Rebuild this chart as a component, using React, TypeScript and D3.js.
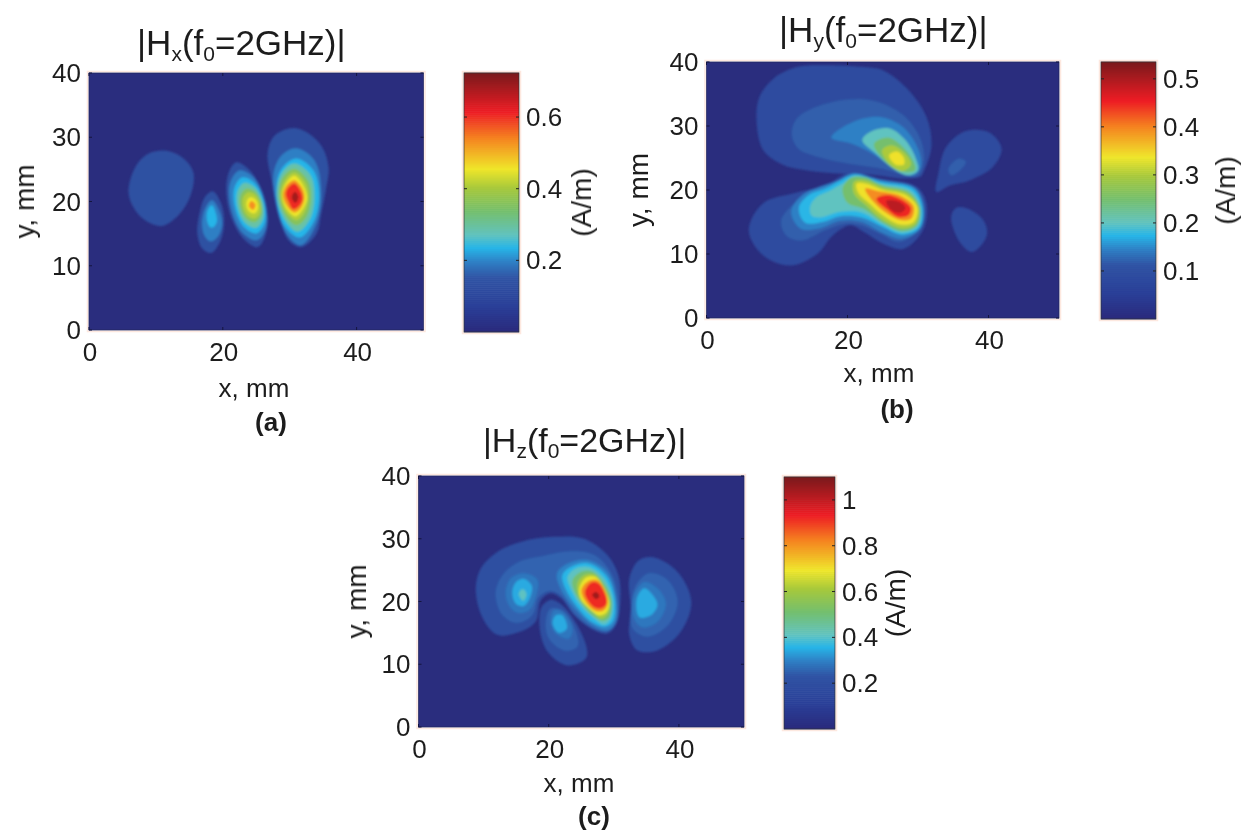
import React from "react";
import * as d3 from "d3";

type Pt = [number, number];
type Contour = [number, Pt[]];

const xTicks = [0, 20, 40];
const yTicks = [0, 10, 20, 30, 40];

// Filled-contour level values in A/m, read against each colour bar
const levelsA = [0.14, 0.195, 0.235, 0.29, 0.36, 0.41, 0.455, 0.53, 0.605, 0.685];
const levelsB = [0.09, 0.12, 0.145, 0.175, 0.2, 0.25, 0.3, 0.34, 0.395, 0.45, 0.49];
const levelsC = [0.2, 0.255, 0.3, 0.36, 0.41, 0.51, 0.61, 0.69, 0.81, 0.92, 1.05, 0.345, 0.285];

const colorbarTicksA = [0.2, 0.4, 0.6];
const colorbarTicksB = [0.1, 0.2, 0.3, 0.4, 0.5];
const colorbarTicksC = [0.2, 0.4, 0.6, 0.8, 1];

// Contours as [level index, outline in (x mm, y mm)]
const contoursA: Contour[] = [
  [0, [[5.9,21.5],[7,25.5],[9,27.5],[11.6,27.9],[14,26.8],[15.6,24.5],[15.2,21],[13.5,18],[11,16.2],[8.5,17],[6.7,19]]],
  [0, [[18.5,21.6],[19.7,19.8],[20.2,17],[19.7,14],[18.3,12],[17,12.6],[16.2,15],[16.6,18.5],[17.4,20.8]]],
  [1, [[18.4,20.2],[19.5,18.5],[19.9,16.5],[19.3,14.6],[18.2,13.8],[17.3,14.6],[16.9,16.5],[17.4,19]]],
  [2, [[18.4,19.4],[19,18],[19.1,16.8],[18.6,16],[18.1,16],[17.7,16.8],[17.6,18],[17.9,19]]],
  [0, [[22,26.1],[24.26,24.6],[26.3,20.2],[26.52,15.26],[25.2,12.9],[22.94,14.4],[20.9,18.8],[20.68,23.74]]],
  [1, [[22.48,24.84],[24.66,23.68],[26.33,20.01],[26.52,15.98],[25.12,13.96],[22.94,15.12],[21.27,18.79],[21.08,22.82]]],
  [2, [[22.94,23.77],[24.77,22.86],[26.14,19.92],[26.27,16.68],[25.06,15.03],[23.23,15.94],[21.86,18.88],[21.73,22.12]]],
  [3, [[23.25,22.9],[24.8,22.19],[25.95,19.85],[26,17.23],[24.95,15.9],[23.4,16.61],[22.25,18.95],[22.2,21.57]]],
  [4, [[23.57,22.02],[24.85,21.52],[25.76,19.78],[25.75,17.82],[24.83,16.78],[23.55,17.28],[22.64,19.02],[22.65,20.98]]],
  [5, [[23.81,21.44],[24.84,21.07],[25.56,19.71],[25.55,18.16],[24.79,17.36],[23.76,17.73],[23.04,19.09],[23.05,20.64]]],
  [6, [[24.1,20.66],[24.77,20.41],[25.23,19.6],[25.19,18.67],[24.7,18.14],[24.03,18.39],[23.57,19.2],[23.61,20.13]]],
  [7, [[24.24,20.08],[24.89,19.52],[24.56,18.72],[23.91,19.28]]],
  [0, [[31,31.4],[34.5,29],[35.8,25.4],[35.4,21.8],[34.7,18.1],[34,15],[31.7,12.9],[29.8,14],[28.4,18.1],[27.3,23.3],[26.7,27.5],[27.8,30.3]]],
  [1, [[31,28.3],[33.7,26.4],[34.7,21.8],[34,16.6],[31.7,13.2],[29.5,15],[28,19.2],[27.6,24.4],[28.8,27.2]]],
  [2, [[30.9,26.7],[33.5,24.9],[34.4,21.3],[33.7,17.1],[31.5,14.4],[29.3,16.1],[28.1,20.2],[28.5,24.6]]],
  [3, [[30.7,25.9],[33.1,24.1],[33.7,21],[33.1,17.4],[31.2,15.3],[29.3,17.1],[28.1,20.7],[28.8,24.4]]],
  [4, [[30.7,25.1],[32.7,23.3],[33.2,20.7],[32.5,17.6],[31,16.3],[29.3,17.9],[28.4,21],[29,23.8]]],
  [5, [[30.7,24.5],[32.4,22.8],[32.8,20.5],[32.1,18.1],[31,17.1],[29.4,18.4],[28.6,21],[29.3,23.3]]],
  [6, [[30.7,24],[32.1,22.3],[32.6,20.5],[31.9,18.7],[30.9,17.7],[29.5,18.9],[28.9,21],[29.5,22.9]]],
  [7, [[30.7,23.3],[31.9,22],[32.2,20.5],[31.6,18.9],[30.7,18.3],[29.6,19.3],[29,21],[29.6,22.6]]],
  [8, [[30.7,22.8],[31.7,21.5],[31.9,20.2],[31.2,19.1],[30.5,18.8],[29.8,20],[29.4,21.3],[29.9,22.3]]],
  [9, [[30.8,21.5],[31.3,20.7],[30.9,19.8],[30.3,20.6]]],
];

const contoursB: Contour[] = [
  [0, [[16.3,39.5],[22.4,39.2],[25,38.7],[28.4,35.9],[31.2,31.4],[31.9,26.7],[30.7,22.6],[30.4,22.1],[27.9,21.8],[23.5,22.4],[18,22.6],[13.5,23.2],[10.9,23.9],[8.06,26.2],[7.1,30.9],[7.5,34.5],[9.5,37.4],[12.8,39.2]]],
  [1, [[12.1,28.8],[13,31.4],[18,33.8],[23.5,34],[27.9,31.7],[30.4,27.8],[30.8,24.1],[29.8,22.1],[25.1,23.3],[20.2,24.1],[15.7,25.2],[13,26.5]]],
  [2, [[17.7,28.2],[20.7,30.6],[24.6,31.4],[27.9,29.8],[30.1,26.2],[30.4,23.6],[29.3,22.3],[26.8,23.3],[23.5,25.7],[20.7,27.2]]],
  [4, [[22.1,27.8],[23.5,29.2],[26,29.6],[28.2,27.8],[29.7,24.9],[30,23.1],[28.7,22.3],[26.8,23.1],[24,25.7]]],
  [5, [[23.75,27.2],[25.7,28.2],[27.6,27],[29.3,24.6],[29.6,23.1],[27.9,22.8],[25.7,24.1]]],
  [6, [[24.9,26.2],[26.2,27],[27.9,26],[29,24],[27.8,23],[26,24]]],
  [7, [[25.9,25.4],[27,26],[28,25],[28,24],[26.8,24]]],
  [0, [[6,13.7],[8,17.9],[12.4,19.5],[16.8,20.7],[20.2,22.6],[24.6,21.8],[29.8,20.5],[31.2,17.9],[30.7,13.7],[27.9,10.8],[25.1,11.6],[22.4,13.4],[20.4,14.5],[17.9,12.9],[15.7,10],[11.85,8.2],[8,9.8]]],
  [1, [[10.6,15.3],[13,18.4],[15.7,19.7],[17.9,20.7],[20.4,22.3],[24.6,21.6],[29.6,20.2],[30.8,17.9],[30.4,14.2],[27.4,11.9],[24.6,13.2],[21.8,14.5],[19.6,14.7],[16.8,13.7],[13.5,12.1],[11.3,12.9]]],
  [2, [[12,16.6],[13.6,19.2],[16,20.5],[18.5,21.4],[20.8,22.6],[24.6,21.6],[29.5,20.4],[30.8,17.5],[30.3,13.9],[27.7,12.4],[25,13.3],[22,15],[19,15.2],[16,14],[13.3,14]]],
  [3, [[13.1,17.2],[14.5,19.2],[17,20.3],[19,21.5],[21,22.4],[24.6,21.3],[29.3,20.2],[30.6,17.3],[30.2,14.1],[27.7,13],[25,14.2],[22,15.7],[19,15.9],[16.5,15],[14,14.9]]],
  [4, [[14.7,17.4],[15.6,18.9],[17.5,19.9],[19.3,21],[21,22.2],[24.6,21],[29,19.9],[30.4,17.3],[30,14.3],[27.7,13.3],[25,14.6],[22,16.5],[19,16.6],[16,15.7],[14.9,16]]],
  [5, [[19.3,20.2],[20.5,21.9],[22.5,22],[25,20.7],[28.7,19.7],[30.3,17.2],[29.8,14.4],[27.7,13.6],[25,14.9],[22.4,17],[20,18]]],
  [6, [[20.9,21.3],[22.5,21.5],[25,20.4],[28.5,19.5],[30.1,17.2],[29.6,14.6],[27.7,14],[25,15.3],[22.6,17.6],[20.9,19.5]]],
  [7, [[21.3,21],[22.5,21],[25,20],[28.2,19.2],[29.9,17.3],[29.4,15],[27.5,14.6],[25.2,15.9],[23,18],[21.5,19.6]]],
  [8, [[22.5,20.2],[24.5,19.8],[27.5,19.1],[29.4,17.4],[29,15.5],[27.5,15.3],[25.5,16.4],[23.8,18]]],
  [9, [[24.1,18.6],[25.5,19.2],[27.5,18.6],[29,17.2],[28.6,16],[27.2,15.8],[25.8,16.8]]],
  [10, [[25.5,18.3],[27.2,18.2],[28.2,17.2],[27.4,16.4],[26.2,16.9]]],
  [0, [[32.6,19.7],[32.9,22.6],[34,26.7],[36.8,29.2],[40.1,29],[41.85,26.5],[40.6,23.6],[37.3,21.5],[34.5,20.7]]],
  [1, [[34.3,23.3],[35.7,24.9],[36.8,24.4],[36,23.1],[34.7,22.3]]],
  [0, [[34.7,15.8],[35.4,17.2],[37,17.1],[39.25,15.3],[39.8,13.2],[39,11.4],[37.6,10.3],[35.9,11.9]]],
];

const contoursC: Contour[] = [
  [0, [[8.8,22.1],[9.6,25.3],[12.1,27.9],[15.7,29.5],[20.8,30.3],[25.4,30],[29,27.4],[30.7,24.2],[31,20],[30.3,16.2],[29,14.9],[26.5,15.7],[23.9,17.8],[21.9,20.5],[20.3,21.3],[18.8,20.2],[18,16.8],[15.7,15.2],[12.1,14.7],[9.8,17.5]]],
  [1, [[11.85,21.3],[12.9,24.2],[15.4,26.3],[19.3,27.3],[23.4,28],[27,27.4],[29.5,24.7],[30.6,21],[30.5,16.8],[29,15.2],[26.5,15.9],[23.9,18.1],[21.9,20.9],[20.3,21.7],[18.5,20.7],[17.5,17.8],[15.2,16.6],[12.9,17.8]]],
  [12, [[13.4,21.5],[14.2,23.7],[16.2,24.5],[18.3,23.4],[18,20.7],[17,18.6],[15.2,18.2],[13.9,19.4]]],
  [11, [[14.4,21.3],[14.9,23],[16.2,23.6],[17.4,22.5],[17.1,20.5],[16.2,19.3],[15,19.6]]],
  [4, [[15.4,21.2],[16,22],[16.6,21.2],[16.1,20.1]]],
  [2, [[21.3,24.5],[22.9,26],[25.95,26.6],[29,24.7],[30.3,21],[30.3,16.8],[29,15.4],[26.7,16.2],[24.2,18.6],[21.85,22]]],
  [3, [[22.1,24.2],[23.4,25.5],[26,26.1],[28.8,24.2],[30.1,20.7],[29.95,17],[28.8,16],[26.7,16.7],[24.4,19.1],[22.6,22]]],
  [4, [[22.9,23.9],[24.2,25.3],[26.2,25.5],[28.5,23.7],[29.8,20.5],[29.55,17.3],[28.5,16.3],[27,17.3],[24.9,19.4],[23.4,22]]],
  [5, [[23.65,23.4],[24.9,24.7],[26.7,24.8],[28.5,22.9],[29.65,20.2],[29.3,17.5],[28.3,16.9],[26.7,17.8],[24.9,19.9],[23.8,22]]],
  [6, [[24.4,22.9],[25.4,24.2],[27,24.3],[28.5,22.3],[29.4,19.9],[29,17.9],[28,17.3],[26.7,18.5],[24.9,20.2]]],
  [7, [[24.7,22.1],[25.7,23.8],[27.2,23.9],[28.6,21.8],[29.3,19.7],[28.8,18.2],[27.75,17.8],[26.2,18.9],[24.9,20.5]]],
  [8, [[25,21.8],[26,23.2],[27.5,23.4],[28.8,21.3],[29,19.4],[28.3,18.5],[27.2,18.5],[25.85,19.7]]],
  [9, [[25.55,21.5],[26.5,23],[27.6,22.9],[28.6,21.3],[28.9,19.7],[28,18.9],[27,19.1],[26,20.2]]],
  [10, [[26.7,21.1],[27.3,21.5],[27.8,20.8],[27.2,20.4]]],
  [0, [[18.8,18.9],[18.8,14.6],[20.05,11.7],[22.9,9.8],[25.7,10.9],[25.85,12.5],[24.4,16.2],[22.4,19.1],[20.8,20.2],[20.05,20.2]]],
  [1, [[20.3,18.9],[19.55,16.75],[20.05,14.1],[22.4,12.2],[24.4,12.8],[24.2,15.2],[22.4,18.4]]],
  [12, [[20.8,18.6],[20.3,16.75],[21.1,14.9],[23.1,14.1],[23.65,15.7],[22.1,18.4]]],
  [11, [[21.1,17.8],[20.6,16.5],[21.6,15],[22.8,15.7],[22.1,17.8]]],
  [0, [[32.4,23.7],[33.9,26.6],[36.2,27],[39.8,24.7],[41.9,20],[40.3,15.2],[36.7,12.2],[33.65,12.2],[32.4,14.6],[32.6,18.9]]],
  [1, [[33.4,22.6],[35.4,24.5],[38.3,23.4],[39.8,20],[38.3,16.2],[35.2,14.4],[32.9,15.7],[32.7,19.4]]],
  [12, [[33.1,21],[34.7,23.1],[36.7,22.1],[38,19.7],[36.7,16.75],[34.4,15.9],[33.1,17.3]]],
  [11, [[33.55,20.5],[34.7,22.1],[36.2,20.7],[36.7,19.4],[35.7,17.8],[33.9,17.5]]],
];

// Colour bar stops (fraction of range, colour)
const colormapStops = [0, 0.1, 0.21, 0.27, 0.325, 0.375, 0.465, 0.555, 0.63, 0.75, 0.85, 1];
const colormapColors = ["#2a2a7c", "#2a3f98", "#3054a4", "#2f7fc4", "#27b5e8", "#62c3bf", "#74bf6e", "#a6c83c", "#efe62a", "#f58220", "#ed1c24", "#7a1a1c"];

const FONT = "'Liberation Sans', Arial, sans-serif";
const INK = "#1d1d1d";
const BG = "#2a2d7e";
const colormap = d3.scaleLinear<string>().domain(colormapStops).range(colormapColors).clamp(true);
const outline = d3.line<Pt>().curve(d3.curveCatmullRomClosed.alpha(0.5));

type PanelProps = {
  id: string;
  sub: string;
  tag: string;
  plot: [number, number, number, number];
  bar: [number, number, number, number];
  barMax: number;
  levels: number[];
  contours: Contour[];
  barTicks: number[];
  titleX: number;
  titleY: number;
  titleSize: number;
  xLabelPos: [number, number];
  tagPos: [number, number];
  yLabelX: number;
  unitX: number;
  barLabelX: number;
};

function Panel(p: PanelProps) {
  const [x0, x1, yTop, yBot] = p.plot;
  const [bx0, bx1, bTop, bBot] = p.bar;
  const x = d3.scaleLinear().domain([0, 50]).range([x0, x1]);
  const y = d3.scaleLinear().domain([0, 40]).range([yBot, yTop]);
  const c = d3.scaleLinear().domain([0, p.barMax]).range([bBot, bTop]);
  const yMid = (yTop + yBot) / 2;
  const ordered = [...p.contours].sort((a, b) => d3.ascending(p.levels[a[0]], p.levels[b[0]]));
  const cells = d3.range(128).map((i) => (i + 0.5) / 128);
  const h = (bBot - bTop) / 128;
  return (
    <g fontFamily={FONT} fill={INK}>
      <rect x={x0 - 1.5} y={yTop - 1.5} width={x1 - x0 + 3} height={yBot - yTop + 3} fill="none" stroke="#fde8df" strokeWidth={1.5} />
      <rect x={bx0 - 1.5} y={bTop - 1.5} width={bx1 - bx0 + 3} height={bBot - bTop + 3} fill="none" stroke="#fde8df" strokeWidth={1.5} />
      <clipPath id={`clip-${p.id}`}>
        <rect x={x0} y={yTop} width={x1 - x0} height={yBot - yTop} />
      </clipPath>
      <g clipPath={`url(#clip-${p.id})`}>
        <rect x={x0} y={yTop} width={x1 - x0} height={yBot - yTop} fill={BG} />
        <g filter="url(#soft)">
          {ordered.map(([lvl, pts], i) => {
            const mapped = pts.map(([a, b]) => [x(a), y(b)] as Pt);
            return <path key={i} d={outline(mapped) || ""} fill={colormap(p.levels[lvl] / p.barMax)} />;
          })}
        </g>
      </g>
      <rect x={x0} y={yTop} width={x1 - x0} height={yBot - yTop} fill="none" stroke="#23265f" strokeWidth={0.8} />
      {xTicks.map((t) => (
        <g key={t}>
          <line x1={x(t)} x2={x(t)} y1={yBot} y2={yBot - 3} stroke="#14153f" />
          <line x1={x(t)} x2={x(t)} y1={yTop} y2={yTop + 3} stroke="#14153f" />
          <text x={x(t) + 1} y={yBot + 31} fontSize={26} textAnchor="middle" filter="url(#softText)">{t}</text>
        </g>
      ))}
      {yTicks.map((t) => (
        <g key={t}>
          <line x1={x0} x2={x0 + 3} y1={y(t)} y2={y(t)} stroke="#14153f" />
          <line x1={x1} x2={x1 - 3} y1={y(t)} y2={y(t)} stroke="#14153f" />
          <text x={x0 - 8} y={y(t) + 9} fontSize={26} textAnchor="end" filter="url(#softText)">{t}</text>
        </g>
      ))}
      {cells.map((f, i) => (
        <rect key={i} x={bx0} y={c(f * p.barMax) - h / 2 - 0.3} width={bx1 - bx0} height={h + 0.6} fill={colormap(f)} />
      ))}
      <rect x={bx0} y={bTop} width={bx1 - bx0} height={bBot - bTop} fill="none" stroke="#333" strokeWidth={0.9} strokeOpacity={0.8} />
      {p.barTicks.map((t) => (
        <g key={t}>
          <line x1={bx0} x2={bx0 + 3} y1={c(t)} y2={c(t)} stroke="#222" />
          <line x1={bx1} x2={bx1 - 3} y1={c(t)} y2={c(t)} stroke="#222" />
          <text x={p.barLabelX} y={c(t) + 9} fontSize={26} filter="url(#softText)">{t}</text>
        </g>
      ))}
      <text x={p.titleX} y={p.titleY} fontSize={p.titleSize} filter="url(#softText)">
        |H<tspan fontSize={21} dy={6}>{p.sub}</tspan><tspan dy={-6}>(f</tspan><tspan fontSize={21} dy={6}>0</tspan><tspan dy={-6}>=2GHz)|</tspan>
      </text>
      <text x={p.xLabelPos[0]} y={p.xLabelPos[1]} fontSize={26} textAnchor="middle" filter="url(#softText)">x, mm</text>
      <text x={p.tagPos[0]} y={p.tagPos[1]} fontSize={26} fontWeight="bold" textAnchor="middle" filter="url(#softText)">{p.tag}</text>
      <text transform={`translate(${p.yLabelX},${yMid}) rotate(-90)`} fontSize={28} textAnchor="middle" filter="url(#softText)">y, mm</text>
      <text transform={`translate(${p.unitX},${(bTop + bBot) / 2}) rotate(-90)`} fontSize={28} textAnchor="middle" filter="url(#softText)">(A/m)</text>
    </g>
  );
}

export default function App() {
  return (
    <svg width={1242} height={830} viewBox="0 0 1242 830" style={{ position: "absolute", left: 0, top: 0, background: "#fff" }}>
      <defs>
        <filter id="soft" x="-10%" y="-10%" width="120%" height="120%"><feGaussianBlur stdDeviation={1.1} /></filter>
        <filter id="softText" x="-10%" y="-20%" width="120%" height="140%"><feGaussianBlur stdDeviation={0.45} /></filter>
      </defs>
      <Panel id="a" sub="x" tag="(a)" plot={[89, 423.5, 73, 330]} bar={[464, 519, 73, 332]} barMax={0.723}
        levels={levelsA} contours={contoursA} barTicks={colorbarTicksA}
        titleX={137} titleY={55} titleSize={35} xLabelPos={[254, 397]} tagPos={[271, 431]} yLabelX={34} unitX={591} barLabelX={526} />
      <Panel id="b" sub="y" tag="(b)" plot={[706.5, 1059, 62, 318]} bar={[1101, 1156, 62, 319]} barMax={0.535}
        levels={levelsB} contours={contoursB} barTicks={colorbarTicksB}
        titleX={779} titleY={42} titleSize={35} xLabelPos={[879, 382]} tagPos={[897, 418]} yLabelX={648} unitX={1235} barLabelX={1163} />
      <Panel id="c" sub="z" tag="(c)" plot={[418.5, 744, 476, 727]} bar={[784, 835, 477, 729]} barMax={1.1}
        levels={levelsC} contours={contoursC} barTicks={colorbarTicksC}
        titleX={483} titleY={452} titleSize={34} xLabelPos={[579, 792]} tagPos={[594, 825]} yLabelX={366} unitX={905} barLabelX={842} />
    </svg>
  );
}
